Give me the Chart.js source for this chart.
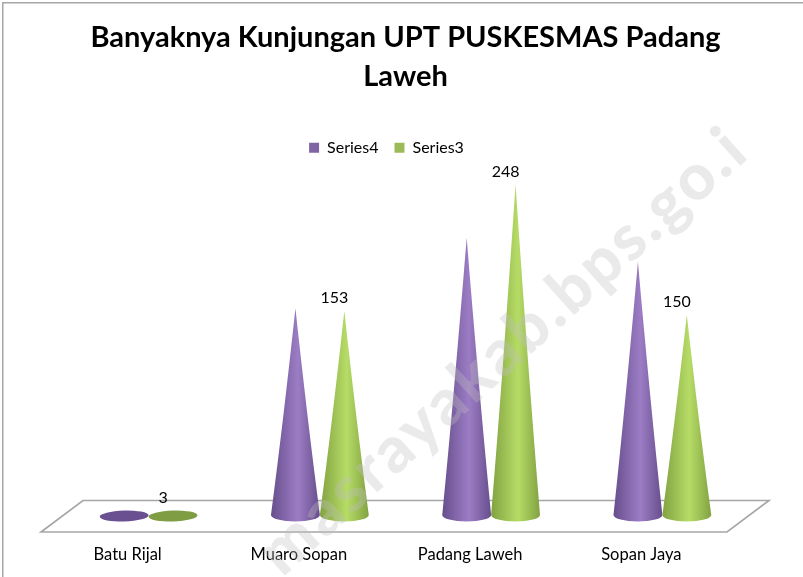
<!DOCTYPE html>
<html><head><meta charset="utf-8">
<style>html,body{margin:0;padding:0;background:#fff}#w{width:803px;height:577px}canvas{display:block}</style>
<script src="https://cdn.jsdelivr.net/npm/chart.js@4"></script></head>
<body><div id="w"><canvas id="c" width="803" height="577"></canvas></div>
<script>
const categories = ["Batu Rijal","Muaro Sopan","Padang Laweh","Sopan Jaya"];
const series4 = [3,155,208,190];
const series3 = [3,153,248,150];
const titleLines = ["Banyaknya Kunjungan UPT PUSKESMAS Padang","Laweh"];
const seriesNames = ["Series4","Series3"];
const legendColors = ["#8064a2","#9bbb59"];
const watermark = "masrayakab.bps.go.i";
const FONT = "Lato, Carlito, sans-serif";
const conePalette = [
  {edge:"#674e8c", mid:"#9c7dc5", flat:"#6b5091"},
  {edge:"#82a242", mid:"#b6dc66", flat:"#7f9d42"}
];
const frame = {id:"frame",
  afterLayout(ch){ const l=ch.legend; l.left-=19; l.right-=19; l.top+=4; l.bottom+=4; },
  beforeDraw(ch){
    const c=ch.ctx; c.save();
    c.fillStyle="#fff"; c.fillRect(0,0,ch.width,ch.height);
    c.strokeStyle="#a6a6a6"; c.lineWidth=1.5;
    c.beginPath(); c.moveTo(2.75,ch.height); c.lineTo(2.75,2.75); c.lineTo(ch.width,2.75); c.stroke();
    const a=ch.chartArea, b=a.bottom;
    c.lineWidth=1.6;
    c.beginPath();
    c.moveTo(a.left-22,b+17); c.lineTo(a.left+20,b-14.5);
    c.lineTo(a.right+21,b-14.5); c.lineTo(a.right-21,b+17); c.closePath(); c.stroke();
    c.restore();
  }};
const cones = {id:"cones",
  afterDatasetsDraw(ch){
    const c=ch.ctx;
    ch.data.datasets.forEach((ds,i)=>{
      const p=conePalette[i];
      ch.getDatasetMeta(i).data.forEach(el=>{
        const x=el.x, tip=el.y, base=el.base, hw=el.width/2, ry=6.5;
        c.save();
        if(base-tip<ry){
          c.fillStyle=p.flat;
          c.beginPath(); c.ellipse(x,base+1,hw,5.5,-0.03,0,Math.PI*2); c.fill();
        }else{
          const g=c.createLinearGradient(x-hw,0,x+hw,0);
          g.addColorStop(0,p.edge); g.addColorStop(0.55,p.mid); g.addColorStop(1,p.edge);
          c.fillStyle=g;
          c.beginPath();
          c.moveTo(x,tip);
          c.quadraticCurveTo(x+hw*0.5,tip+(base-tip)*0.55,x+hw,base);
          c.ellipse(x,base,hw,ry,0,0,Math.PI);
          c.quadraticCurveTo(x-hw*0.5,tip+(base-tip)*0.55,x,tip);
          c.closePath(); c.fill();
        }
        c.restore();
      });
    });
    const m=ch.getDatasetMeta(1);
    c.save(); c.fillStyle="#000"; c.font="16px "+FONT; c.textAlign="center"; c.textBaseline="middle";
    m.data.forEach((el,j)=>c.fillText(String(series3[j]),el.x-10,el.y-13));
    c.restore();
    c.save();
    c.translate(ch.width-51,ch.height-422); c.rotate(-42*Math.PI/180);
    c.fillStyle="rgba(190,190,190,0.33)"; c.font="900 64px "+FONT; c.letterSpacing="3px"; c.textAlign="right"; c.textBaseline="alphabetic";
    c.fillText(watermark,0,0);
    c.restore();
  }};
new Chart(document.getElementById("c"),{
  type:"bar",
  data:{labels:categories,datasets:[
    {label:seriesNames[0],data:series4,backgroundColor:"transparent"},
    {label:seriesNames[1],data:series3,backgroundColor:"transparent"}
  ]},
  plugins:[frame,cones],
  options:{
    responsive:false,animation:false,
    layout:{padding:{left:63,right:55,top:18,bottom:0}},
    datasets:{bar:{categoryPercentage:0.571,barPercentage:1}},
    plugins:{
      title:{display:true,text:titleLines,color:"#000",font:{family:FONT,size:29,weight:"bold",lineHeight:1.34},padding:{top:0,bottom:24}},
      legend:{display:true,position:"top",align:"center",
        labels:{boxWidth:10,boxHeight:10,font:{family:FONT,size:16},color:"#000",padding:16,
          generateLabels(ch){
            return Chart.defaults.plugins.legend.labels.generateLabels(ch).map((it,i)=>Object.assign(it,{fillStyle:legendColors[i],strokeStyle:legendColors[i],lineWidth:0}));
          }}
      },
      tooltip:{enabled:false}
    },
    scales:{
      x:{grid:{display:false,drawTicks:false},border:{display:false},
         afterFit(s){s.height=62;},
         ticks:{color:"#000",font:{family:FONT,size:16.5},padding:30,labelOffset:-21,maxRotation:0}},
      y:{display:false,min:0,max:265}
    }
  }
});
</script></body></html>
